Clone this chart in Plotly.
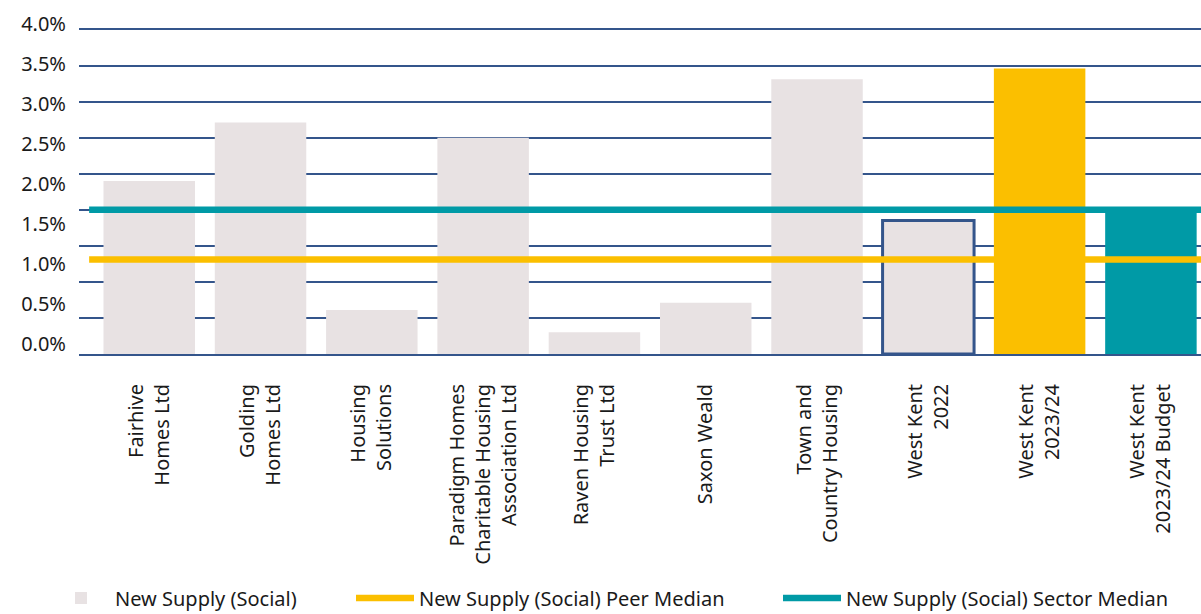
import plotly.graph_objects as go

# ---------------- data ----------------
categories = [
    "Fairhive Homes Ltd", "Golding Homes Ltd", "Housing Solutions",
    "Paradigm Homes Charitable Housing Association Ltd", "Raven Housing Trust Ltd",
    "Saxon Weald", "Town and Country Housing", "West Kent 2022",
    "West Kent 2023/24", "West Kent 2023/24 Budget",
]
tick_labels = [
    "Fairhive<br>Homes Ltd", "Golding<br>Homes Ltd", "Housing<br>Solutions",
    "Paradigm Homes<br>Charitable Housing<br>Association Ltd", "Raven Housing<br>Trust Ltd",
    "Saxon Weald", "Town and<br>Country Housing", "West Kent<br>2022",
    "West Kent<br>2023/24", "West Kent<br>2023/24 Budget",
]
new_supply_social = [2.40, 3.21, 0.61, 3.00, 0.30, 0.71, 3.81, 1.85, 3.96, 2.01]
peer_median = 1.31
sector_median = 2.00
y_tick_values = [0.0, 0.5, 1.0, 1.5, 2.0, 2.5, 3.0, 3.5, 4.0]
y_tick_labels = ["0.0%", "0.5%", "1.0%", "1.5%", "2.0%", "2.5%", "3.0%", "3.5%", "4.0%"]

# ---------------- styles ----------------
GRAY = "#E8E2E3"
YELLOW = "#FBBF00"
TEAL = "#009AA6"
NAVY = "#34558B"
FONT = "Noto Sans"

bar_colors = [GRAY] * 8 + [YELLOW, TEAL]
bar_line_widths = [0] * 7 + [3, 0, 0]
bar_line_colors = [NAVY] * len(categories)

n = len(categories)
xpos = list(range(n))

fig = go.Figure()
fig.add_trace(go.Bar(
    x=xpos, y=new_supply_social, name="New Supply (Social)",
    marker=dict(color=bar_colors, line=dict(color=bar_line_colors, width=bar_line_widths)),
    legend="legend", hoverinfo="skip",
))
line_x = [xpos[0] - 0.54, xpos[-1] + 0.6]
fig.add_trace(go.Scatter(
    x=line_x, y=[peer_median] * 2, mode="lines",
    name="New Supply (Social) Peer Median",
    line=dict(color=YELLOW, width=6.5), legend="legend2",
))
fig.add_trace(go.Scatter(
    x=line_x, y=[sector_median] * 2, mode="lines",
    name="New Supply (Social) Sector Median",
    line=dict(color=TEAL, width=6.5), legend="legend3",
))
# empty trace that carries the percentage label axis
fig.add_trace(go.Scatter(
    x=[], y=[], xaxis="x", yaxis="y2", mode="lines",
    showlegend=False, hoverinfo="skip",
))

legend_common = dict(
    orientation="h", xref="container", yref="container", yanchor="middle",
    y=1 - 598 / 614, itemwidth=58, bgcolor="rgba(0,0,0,0)",
    font=dict(family=FONT, size=20, color="#1a1a1a"),
)

fig.update_layout(
    width=1201, height=614,
    margin=dict(l=79, r=0, t=20, b=260, pad=0),
    plot_bgcolor="rgba(0,0,0,0)", paper_bgcolor="white",
    bargap=0.178,
    showlegend=True,
    legend=dict(x=47 / 1201, **legend_common),
    legend2=dict(x=351 / 1201, **legend_common),
    legend3=dict(x=778 / 1201, **legend_common),
    xaxis=dict(
        range=[-0.631, 9.45], tickmode="array", tickvals=xpos, ticktext=tick_labels,
        tickangle=-90, showgrid=False, zeroline=False, showline=True,
        linecolor=NAVY, linewidth=2, ticks="", ticklabelstandoff=20,
        tickfont=dict(family=FONT, size=20, color="#1a1a1a"),
    ),
    yaxis=dict(
        domain=[0, 0.97587], range=[0, 4.52], tick0=0, dtick=0.5,
        showgrid=True, gridcolor=NAVY, gridwidth=2, zeroline=False,
        showticklabels=False, ticks="",
    ),
    yaxis2=dict(
        domain=[0, 1], anchor="x", range=[-0.125, 4.05], side="left",
        tickmode="array", tickvals=y_tick_values, ticktext=y_tick_labels,
        showgrid=False, zeroline=False, showline=False, ticks="",
        ticklabelstandoff=12,
        tickfont=dict(family=FONT, size=20, color="#1a1a1a"),
    ),
)

fig.write_html("out.html")
